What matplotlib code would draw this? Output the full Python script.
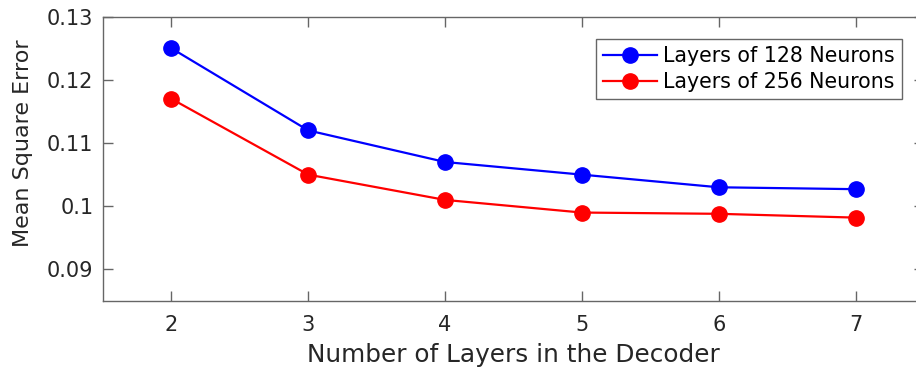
import numpy as np
import matplotlib
matplotlib.use("Agg")
import matplotlib.pyplot as plt

# data
layers = [2, 3, 4, 5, 6, 7]
mse_128 = [0.125, 0.112, 0.107, 0.105, 0.103, 0.1027]
mse_256 = [0.117, 0.105, 0.101, 0.099, 0.0988, 0.0982]
labels = ["Layers of 128 Neurons", "Layers of 256 Neurons"]

text_col = "#262626"
axis_col = "#666666"
plt.rcParams['font.family'] = ['DejaVu Sans']

fig = plt.figure(figsize=(9.16, 3.72), dpi=100)
ax = fig.add_axes([103 / 916, 71 / 372, 821 / 916, 284.3 / 372])

ax.plot(layers, mse_128, color='blue', lw=1.6, marker='o', ms=11, label=labels[0])
ax.plot(layers, mse_256, color='red', lw=1.6, marker='o', ms=11, label=labels[1])

ax.set_xlim(1.5, 7.5)
ax.set_ylim(0.085, 0.13)
ax.set_xticks(layers)
ax.set_yticks([0.09, 0.1, 0.11, 0.12, 0.13])
ax.set_yticklabels(["0.09", "0.1", "0.11", "0.12", "0.13"])

ax.tick_params(direction='in', length=7, width=1, colors=axis_col,
               labelcolor=text_col, labelsize=15, top=True, right=True)
ax.tick_params(axis='x', pad=10)
ax.tick_params(axis='y', pad=7)
for sp in ax.spines.values():
    sp.set_color(axis_col)
    sp.set_linewidth(1)

ax.set_xlabel('Number of Layers in the Decoder', fontsize=17.8, color=text_col, labelpad=6)
ax.set_ylabel('Mean Square Error', fontsize=16, color=text_col)
ax.yaxis.set_label_coords(-0.085, 0.556)

leg = ax.legend(loc='upper right', bbox_to_anchor=(0.973, 0.922), fontsize=14.8,
                fancybox=False, framealpha=1, edgecolor=axis_col,
                borderpad=0.35, handlelength=2.6, handletextpad=0.3, labelspacing=0.3,
                borderaxespad=0)
for t in leg.get_texts():
    t.set_color('black')

fig.savefig('out.png', dpi=100)
